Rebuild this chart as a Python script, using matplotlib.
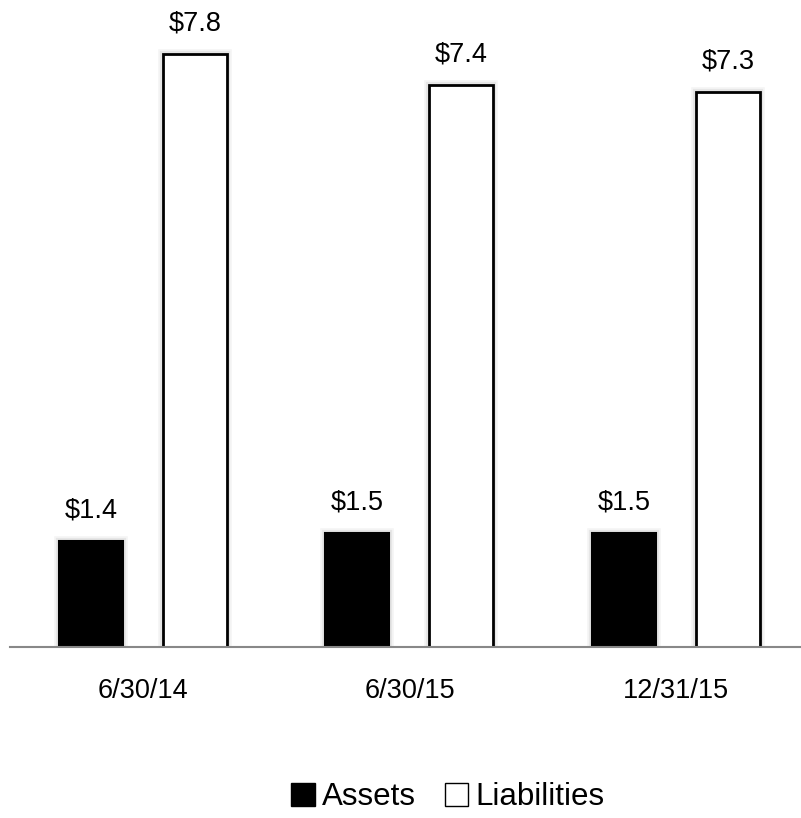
import matplotlib
matplotlib.use("Agg")
import matplotlib.pyplot as plt
from matplotlib import font_manager
from matplotlib.patches import Patch
import matplotlib.patheffects as pe
import numpy as np

categories = ["6/30/14", "6/30/15", "12/31/15"]
assets = [1.4, 1.5, 1.5]
liabilities = [7.8, 7.4, 7.3]
labels_assets = ["$1.4", "$1.5", "$1.5"]
labels_liab = ["$7.8", "$7.4", "$7.3"]

names = {f.name for f in font_manager.fontManager.ttflist}
fam = ["Liberation Sans Narrow", "Arial Narrow", "Liberation Sans", "DejaVu Sans"]
fam = [f for f in fam if f in names] or ["DejaVu Sans"]
plt.rcParams['font.family'] = fam

fig = plt.figure(figsize=(8.01, 8.18), dpi=100)
ax = fig.add_axes([10/801, 171/818, 790/801, 608/818])
x = np.arange(len(categories))
w = 0.24
off = 0.195
glow = [pe.Stroke(linewidth=7, foreground="#000000", alpha=0.04),
        pe.Stroke(linewidth=4.5, foreground="#000000", alpha=0.06),
        pe.Normal()]
b1 = ax.bar(x - off, assets, w, color="black", edgecolor="black", linewidth=1.5)
b2 = ax.bar(x + off, liabilities, w, color="white", edgecolor="black", linewidth=2)
for r in list(b1) + list(b2):
    r.set_path_effects(glow)
for rect, lab in zip(b1, labels_assets):
    ax.text(rect.get_x() + rect.get_width()/2, rect.get_height() + 0.23, lab,
            ha="center", va="bottom", fontsize=19.5)
for rect, lab in zip(b2, labels_liab):
    ax.text(rect.get_x() + rect.get_width()/2, rect.get_height() + 0.23, lab,
            ha="center", va="bottom", fontsize=19.5)

ax.set_xlim(-133/267, 2 + 124/267)
ax.set_ylim(0, 8)
for s in ["top", "right", "left"]:
    ax.spines[s].set_visible(False)
ax.spines["bottom"].set_color("#888888")
ax.spines["bottom"].set_linewidth(1.5)
ax.spines["bottom"].set_zorder(3)
ax.set_yticks([])
ax.set_xticks(x)
ax.set_xticklabels(categories, fontsize=19.5)
ax.tick_params(axis="x", length=0, pad=22)

handles = [Patch(facecolor="black", edgecolor="black"),
           Patch(facecolor="white", edgecolor="black")]
fig.legend(handles, ["Assets", "Liabilities"], loc="center", bbox_to_anchor=(448/801, 1 - 797/818),
           ncol=2, frameon=False, fontsize=22.5, handlelength=0.75, handleheight=0.75,
           handletextpad=0.25, columnspacing=0.9)
fig.savefig("out.png", dpi=100)
